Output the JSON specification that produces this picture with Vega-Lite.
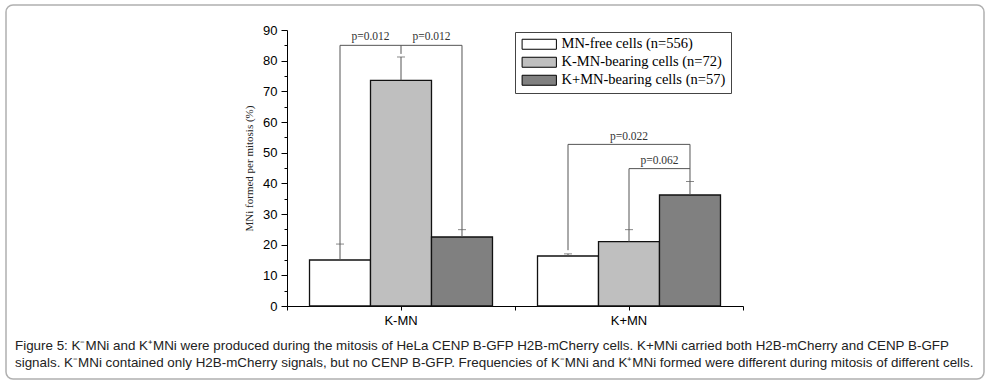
{
  "$schema": "https://vega.github.io/schema/vega-lite/v6.json",
  "width": 978,
  "height": 374,
  "autosize": {"type": "none"},
  "padding": {"left": 6, "top": 5, "right": 2, "bottom": 6},
  "background": "white",
  "config": {
    "view": {"stroke": "#b0b0b0", "strokeWidth": 1.5, "cornerRadius": 7},
    "font": "Liberation Sans"
  },
  "title": {
    "text": [
      "Figure 5: K⁻MNi and K⁺MNi were produced during the mitosis of HeLa CENP B-GFP H2B-mCherry cells. K+MNi carried both H2B-mCherry and CENP B-GFP",
      "signals. K⁻MNi contained only H2B-mCherry signals, but no CENP B-GFP. Frequencies of K⁻MNi and K⁺MNi formed were different during mitosis of different cells."
    ],
    "orient": "bottom",
    "anchor": "start",
    "frame": "group",
    "offset": -40,
    "dx": 9,
    "font": "Liberation Sans",
    "fontSize": 13.4,
    "fontWeight": "normal",
    "color": "#222222",
    "lineHeight": 17
  },
  "datasets": {
    "bars": [
      {"group": "K-MN", "series": "MN-free cells (n=556)", "value": 15.0, "err": 20.2},
      {"group": "K-MN", "series": "K-MN-bearing cells (n=72)", "value": 73.6, "err": 81.2},
      {"group": "K-MN", "series": "K+MN-bearing cells (n=57)", "value": 22.5, "err": 24.9},
      {"group": "K+MN", "series": "MN-free cells (n=556)", "value": 16.3, "err": 17.0},
      {"group": "K+MN", "series": "K-MN-bearing cells (n=72)", "value": 21.0, "err": 24.9},
      {"group": "K+MN", "series": "K+MN-bearing cells (n=57)", "value": 36.2, "err": 40.6}
    ],
    "brackets": [
      {"b": "b1", "group": "K-MN", "series": "MN-free cells (n=556)", "y": 20.2, "o": 1},
      {"b": "b1", "group": "K-MN", "series": "MN-free cells (n=556)", "y": 85, "o": 2},
      {"b": "b1", "group": "K-MN", "series": "K+MN-bearing cells (n=57)", "y": 85, "o": 3},
      {"b": "b1", "group": "K-MN", "series": "K+MN-bearing cells (n=57)", "y": 24.9, "o": 4},
      {"b": "b1m", "group": "K-MN", "series": "K-MN-bearing cells (n=72)", "y": 85, "o": 1},
      {"b": "b1m", "group": "K-MN", "series": "K-MN-bearing cells (n=72)", "y": 82.2, "o": 2},
      {"b": "b2", "group": "K+MN", "series": "MN-free cells (n=556)", "y": 18.2, "o": 1},
      {"b": "b2", "group": "K+MN", "series": "MN-free cells (n=556)", "y": 52.7, "o": 2},
      {"b": "b2", "group": "K+MN", "series": "K+MN-bearing cells (n=57)", "y": 52.7, "o": 3},
      {"b": "b2", "group": "K+MN", "series": "K+MN-bearing cells (n=57)", "y": 40.6, "o": 4},
      {"b": "b3", "group": "K+MN", "series": "K-MN-bearing cells (n=72)", "y": 24.9, "o": 1},
      {"b": "b3", "group": "K+MN", "series": "K-MN-bearing cells (n=72)", "y": 44.8, "o": 2},
      {"b": "b3", "group": "K+MN", "series": "K+MN-bearing cells (n=57)", "y": 44.8, "o": 3}
    ],
    "labelsMid": [
      {"group": "K-MN", "series": "MN-free cells (n=556)", "y": 87.8, "label": "p=0.012"},
      {"group": "K-MN", "series": "K-MN-bearing cells (n=72)", "y": 87.8, "label": "p=0.012"},
      {"group": "K+MN", "series": "K-MN-bearing cells (n=72)", "y": 47.4, "label": "p=0.062"}
    ],
    "labelsCenter": [
      {"group": "K+MN", "series": "K-MN-bearing cells (n=72)", "y": 55.2, "label": "p=0.022"}
    ]
  },
  "resolve": {"axis": {"x": "independent", "y": "independent"}},
  "layer": [
    {
      "data": {"name": "bars"},
      "mark": {"type": "bar", "stroke": "#111111", "strokeWidth": 1.3},
      "encoding": {
        "x": {
          "field": "group", "type": "nominal",
          "scale": {"domain": ["K-MN", "K+MN"], "range": [281, 737], "paddingInner": 0, "paddingOuter": 0},
          "axis": {"orient": "bottom", "offset": -73, "title": null, "labelAngle": 0, "labelFont": "Liberation Sans", "labelFontSize": 13, "labelColor": "#000000", "labelPadding": 4, "tickSize": 4, "tickColor": "#000000", "domainColor": "#000000", "grid": false}
        },
        "xOffset": {
          "field": "series", "type": "nominal",
          "scale": {"domain": ["MN-free cells (n=556)", "K-MN-bearing cells (n=72)", "K+MN-bearing cells (n=57)"], "paddingInner": 0, "paddingOuter": 0.369}
        },
        "y": {
          "field": "value", "type": "quantitative",
          "scale": {"domain": [0, 90], "nice": false, "range": [301, 25]},
          "axis": {"orient": "left", "offset": -281, "values": [0, 10, 20, 30, 40, 50, 60, 70, 80, 90], "tickSize": 6, "labelPadding": 4, "labelFont": "Liberation Sans", "labelFontSize": 13, "labelColor": "#000000", "tickColor": "#000000", "domainColor": "#000000", "grid": false, "title": "MNi formed per mitosis (%)", "titleFont": "Liberation Serif", "titleFontSize": 11, "titleFontWeight": "normal", "titleColor": "#222222", "titlePadding": 8}
        },
        "fill": {
          "field": "series", "type": "nominal",
          "scale": {"domain": ["MN-free cells (n=556)", "K-MN-bearing cells (n=72)", "K+MN-bearing cells (n=57)"], "range": ["#ffffff", "#bfbfbf", "#808080"]},
          "legend": {"title": null, "orient": "none", "legendX": 509, "legendY": 27, "symbolType": "M-3.43,-1H3.43V1H-3.43Z", "symbolSize": 100, "symbolOffset": 12, "labelOffset": 15, "symbolStrokeColor": "#000000", "symbolStrokeWidth": 1, "labelFont": "Liberation Serif", "labelFontSize": 14.5, "labelColor": "#000000", "labelLimit": 300, "strokeColor": "#444444", "fillColor": "#ffffff", "padding": 5, "rowPadding": 2}
        }
      }
    },
    {
      "data": {"name": "bars"},
      "mark": {"type": "rule", "color": "#555555", "strokeWidth": 1},
      "encoding": {
        "x": {
          "field": "group", "type": "nominal",
          "axis": {"orient": "bottom", "offset": -73, "tickBand": "extent", "labels": false, "domain": false, "title": null, "tickSize": 4, "tickColor": "#000000", "grid": false}
        },
        "xOffset": {"field": "series", "type": "nominal"},
        "y": {
          "field": "value", "type": "quantitative",
          "axis": {"orient": "left", "offset": -281, "values": [5, 15, 25, 35, 45, 55, 65, 75, 85], "labels": false, "domain": false, "tickSize": 3, "tickColor": "#000000", "title": null, "grid": false}
        },
        "y2": {"field": "err"}
      }
    },
    {
      "data": {"name": "bars"},
      "mark": {"type": "tick", "color": "#555555", "size": 8, "thickness": 1},
      "encoding": {
        "x": {"field": "group", "type": "nominal", "axis": null},
        "xOffset": {"field": "series", "type": "nominal"},
        "y": {"field": "err", "type": "quantitative", "axis": null}
      }
    },
    {
      "data": {"name": "brackets"},
      "mark": {"type": "line", "color": "#555555", "strokeWidth": 1},
      "encoding": {
        "x": {"field": "group", "type": "nominal", "axis": null},
        "xOffset": {"field": "series", "type": "nominal"},
        "y": {"field": "y", "type": "quantitative", "axis": null},
        "detail": {"field": "b", "type": "nominal"},
        "order": {"field": "o", "type": "quantitative"}
      }
    },
    {
      "data": {"name": "labelsMid"},
      "mark": {"type": "text", "font": "Liberation Serif", "fontSize": 11.5, "color": "#333333", "dx": 30.5, "baseline": "middle"},
      "encoding": {
        "x": {"field": "group", "type": "nominal", "axis": null},
        "xOffset": {"field": "series", "type": "nominal"},
        "y": {"field": "y", "type": "quantitative", "axis": null},
        "text": {"field": "label"}
      }
    },
    {
      "data": {"name": "labelsCenter"},
      "mark": {"type": "text", "font": "Liberation Serif", "fontSize": 11.5, "color": "#333333", "baseline": "middle"},
      "encoding": {
        "x": {"field": "group", "type": "nominal", "axis": null},
        "xOffset": {"field": "series", "type": "nominal"},
        "y": {"field": "y", "type": "quantitative", "axis": null},
        "text": {"field": "label"}
      }
    }
  ]
}
